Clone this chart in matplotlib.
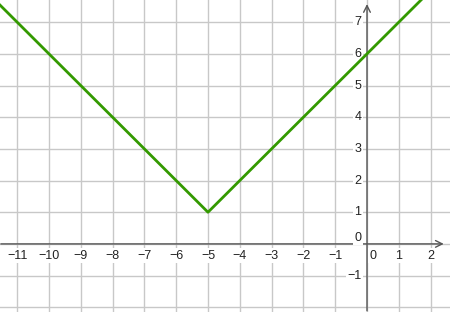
import matplotlib.pyplot as plt
import numpy as np

# graph of y = |x + 5| + 1 (corner points)
line_x = [-11.6, -5, 2.7]
line_y = [7.6, 1, 8.7]

x_ticks = [-11, -10, -9, -8, -7, -6, -5, -4, -3, -2, -1, 0, 1, 2]
y_ticks = [-1, 0, 1, 2, 3, 4, 5, 6, 7]
x_grid = list(range(-11, 3))
y_grid = list(range(-2, 8))

plt.rcParams['font.family'] = ['Liberation Sans', 'DejaVu Sans']

fig = plt.figure(figsize=(4.5, 3.12), dpi=100)
ax = fig.add_axes([0, 0, 1, 1])
ax.set_xlim(-11.54, 2.61)
ax.set_ylim(-2.15, 7.70)
ax.axis('off')

# grid
for gx in x_grid:
    ax.axvline(gx, color='#c8c8c8', lw=1, zorder=0)
for gy in y_grid:
    ax.axhline(gy, color='#c8c8c8', lw=1, zorder=0)

# axes with open arrow heads
axis_col = '#555555'
ax.annotate('', xy=(2.50, 0), xytext=(-11.6, 0),
            arrowprops=dict(arrowstyle='->', color=axis_col, lw=1, mutation_scale=12))
ax.annotate('', xy=(0, 7.66), xytext=(0, -2.2),
            arrowprops=dict(arrowstyle='->', color=axis_col, lw=1, mutation_scale=12))

box = dict(facecolor='white', edgecolor='none', pad=1)
for t in x_ticks:
    if t == 0:
        ax.text(0.19, -0.37, '0', ha='center', va='center', fontsize=9, color='#222222', bbox=box)
    else:
        lab = str(t).replace('-', '\u2212')
        ax.text(t, -0.37, lab, ha='center', va='center', fontsize=9, color='#222222', bbox=box)
for t in y_ticks:
    if t == 0:
        ax.text(-0.18, 0.2, '0', ha='right', va='center', fontsize=9, color='#222222', bbox=box)
    else:
        lab = str(t).replace('-', '\u2212')
        ax.text(-0.18, t, lab, ha='right', va='center', fontsize=9, color='#222222', bbox=box)

ax.plot(line_x, line_y, color='#339900', lw=2, zorder=5)

fig.savefig('out.png', dpi=100)
